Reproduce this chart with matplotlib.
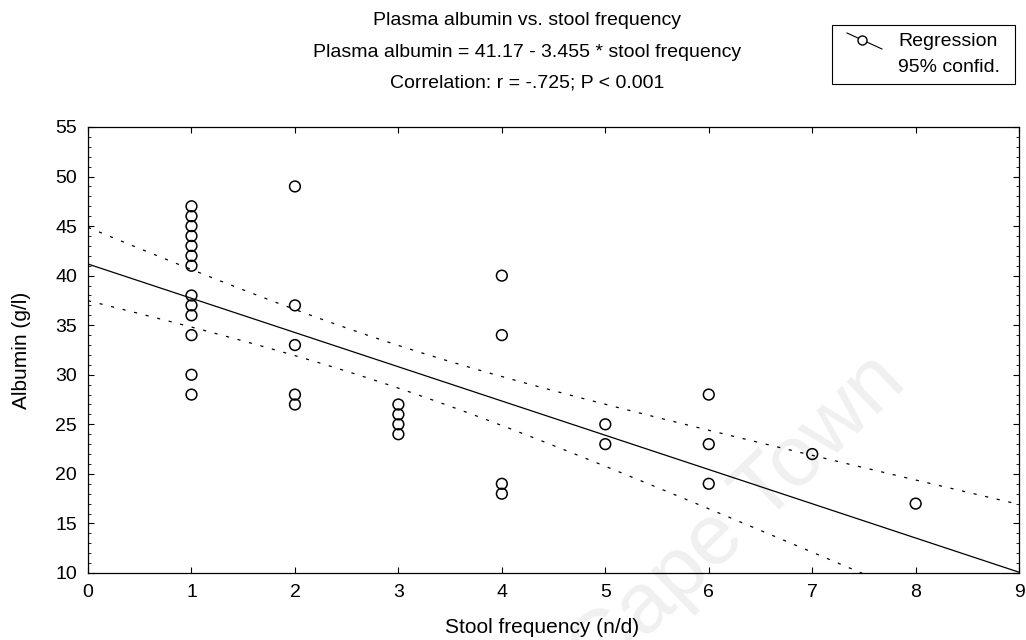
import numpy as np
import matplotlib
matplotlib.use("Agg")
import matplotlib.pyplot as plt
from matplotlib.ticker import MultipleLocator
from matplotlib.lines import Line2D
from matplotlib.patches import Rectangle

plt.rcParams['font.family'] = ['Liberation Sans', 'DejaVu Sans']

# data
stool_freq = [1] * 13 + [2] * 5 + [3] * 4 + [4] * 4 + [5] * 2 + [6] * 3 + [7] + [8]
albumin = [47, 46, 45, 44, 43, 42, 41, 38, 37, 36, 34, 30, 28,
           49, 37, 33, 28, 27,
           27, 26, 25, 24,
           40, 34, 19, 18,
           25, 23,
           28, 23, 19,
           22,
           17]

intercept = 41.17
slope = -3.455
t_crit = 1.85  # band multiplier, tuned to match the printed band


def conf_band(x, xs, ys):
    xs = np.asarray(xs, float)
    ys = np.asarray(ys, float)
    n = len(xs)
    resid = ys - (intercept + slope * xs)
    s = np.sqrt(np.sum(resid ** 2) / (n - 2))
    sxx = np.sum((xs - xs.mean()) ** 2)
    half = t_crit * s * np.sqrt(1 / n + (x - xs.mean()) ** 2 / sxx)
    fit = intercept + slope * x
    return fit, fit - half, fit + half


W, H = 1026, 640


def px(x, y):
    # pixel (from top-left) -> figure fraction
    return x / W, 1 - y / H


fig = plt.figure(figsize=(10.26, 6.4), dpi=100)
ax = fig.add_axes([0.0858, 0.1047, 0.9075, 0.6969])

xx = np.linspace(0, 9, 200)
fit, lo, hi = conf_band(xx, stool_freq, albumin)

ax.plot(xx, fit, color='black', lw=0.9, zorder=2)
ax.plot(xx, lo, color='black', lw=0.9, ls=(0, (2.5, 7)), zorder=2)
ax.plot(xx, hi, color='black', lw=0.9, ls=(0, (2.5, 7)), zorder=2)
ax.scatter(stool_freq, albumin, s=60, facecolors='none', edgecolors='black',
           linewidths=1.1, zorder=3)

ax.set_xlim(0, 9)
ax.set_ylim(10, 55)
ax.xaxis.set_major_locator(MultipleLocator(1))
ax.yaxis.set_major_locator(MultipleLocator(5))
ax.yaxis.set_minor_locator(MultipleLocator(1))
ax.tick_params(which='both', direction='in', top=True, right=True,
               labelsize=14, colors='black', pad=8)
ax.tick_params(which='major', length=4)
ax.tick_params(which='minor', length=2)
for sp in ax.spines.values():
    sp.set_linewidth(0.9)

ax.set_xlabel('Stool frequency (n/d)', fontsize=15, va='center')
ax.set_ylabel('Albumin (g/l)', fontsize=15, va='center')
ax.xaxis.set_label_coords(0.488, -0.123)
ax.yaxis.set_label_coords(-0.071, 0.5)

fig.text(0.514, 0.968, 'Plasma albumin vs. stool frequency', ha='center', va='center', fontsize=14)
fig.text(0.514, 0.918, 'Plasma albumin = 41.17 - 3.455 * stool frequency', ha='center', va='center', fontsize=14)
fig.text(0.514, 0.870, 'Correlation: r = -.725; P < 0.001', ha='center', va='center', fontsize=14)

# key box, drawn by hand so the two text lines sit left-aligned
x0, y0 = px(832, 84)
x1, y1 = px(1015, 25)
fig.add_artist(Rectangle((x0, y0), x1 - x0, y1 - y0, transform=fig.transFigure,
                         facecolor='white', edgecolor='black', lw=0.8))
(ax_, ay_), (bx_, by_) = px(847, 33), px(882, 49)
fig.add_artist(Line2D([ax_, bx_], [ay_, by_], color='black', lw=0.8,
                      transform=fig.transFigure))
cx, cy = px(862, 40)
fig.add_artist(Line2D([cx], [cy], marker='o', markersize=6.5, ls='none',
                      markerfacecolor='white', markeredgecolor='black',
                      transform=fig.transFigure))
fig.text(*px(898, 42), 'Regression', ha='left', va='center', fontsize=14)
fig.text(*px(898, 68), '95% confid.', ha='left', va='center', fontsize=14)

# faint watermark
ax.text(0.72, 0.19, 'Cape Town', rotation=44, fontsize=62, color='#f0f0f0',
        ha='center', va='center', zorder=0, transform=fig.transFigure, clip_on=False)

fig.savefig('out.png', dpi=100)
